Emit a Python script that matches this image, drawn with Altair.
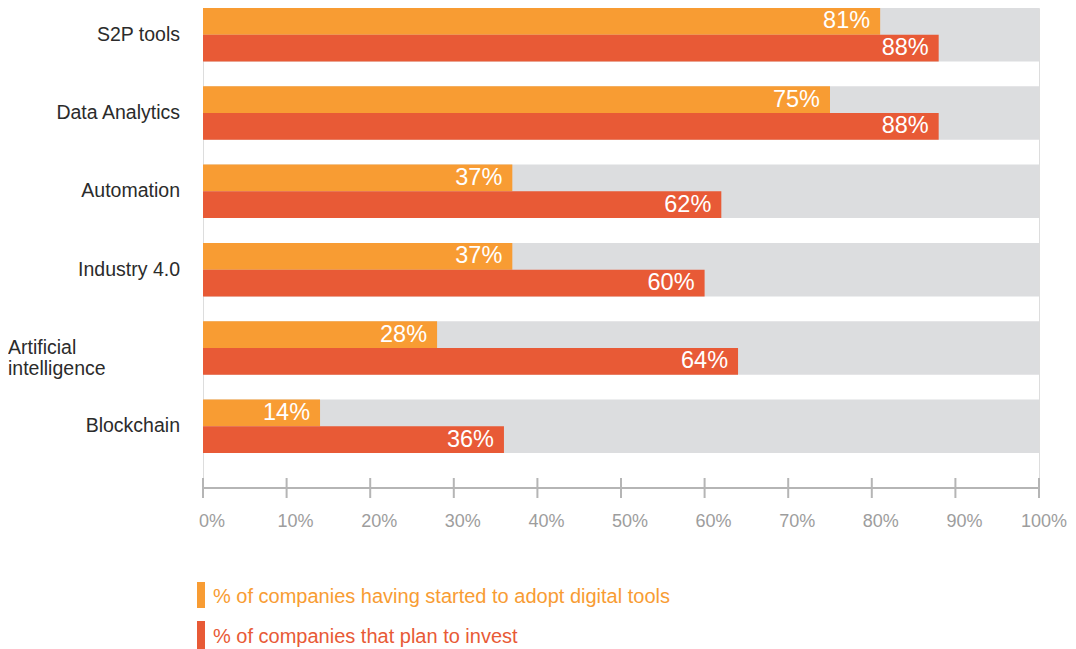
import altair as alt
import pandas as pd

categories = ["S2P tools", "Data Analytics", "Automation", "Industry 4.0",
              "Artificial intelligence", "Blockchain"]
series_names = ["% of companies having started to adopt digital tools",
                "% of companies that plan to invest"]
adopted = [81, 75, 37, 37, 28, 14]
plan_to_invest = [88, 88, 62, 60, 64, 36]
full_scale = [100, 100, 100, 100, 100, 100]
tick_values = [0, 10, 20, 30, 40, 50, 60, 70, 80, 90, 100]
axis_extent = [0, 100]

ORANGE = "#F89C33"
RED = "#E85A36"
GREY_BG = "#DCDDDF"
AXIS_GREY = "#B5B5B5"
FONT = "Liberation Sans"

rows = []
for i, c in enumerate(categories):
    rows.append({"category": c, "series": series_names[0], "value": adopted[i]})
    rows.append({"category": c, "series": series_names[1], "value": plan_to_invest[i]})
df = pd.DataFrame(rows)
bg = pd.DataFrame({"category": categories, "full": full_scale})
ticks_df = pd.DataFrame({"tick": tick_values})
domain_df = pd.DataFrame({"start": [axis_extent[0]], "end": [axis_extent[1]]})

x_scale = alt.Scale(domain=[0, 100], nice=False)
y_scale = alt.Scale(domain=categories, range=[0, 445], paddingInner=25 / 79, paddingOuter=0)
y_enc = alt.Y("category:N", scale=y_scale, sort=categories, axis=None)
yo_enc = alt.YOffset("series:N", sort=series_names,
                     scale=alt.Scale(domain=series_names, paddingInner=0, paddingOuter=0))
color_enc = alt.Color("series:N", scale=alt.Scale(domain=series_names, range=[ORANGE, RED]),
                      legend=None)

background = alt.Chart(bg).mark_bar(color=GREY_BG).encode(
    x=alt.X("full:Q", scale=x_scale, axis=None),
    y=y_enc,
)

bars = alt.Chart(df).mark_bar().encode(
    x=alt.X("value:Q", scale=x_scale, axis=None),
    y=y_enc,
    yOffset=yo_enc,
    color=color_enc,
)

value_labels = alt.Chart(df).transform_calculate(
    lab="datum.value + '%'"
).mark_text(align="right", baseline="middle", dx=-10, dy=0, color="white",
            font=FONT, fontSize=23.5).encode(
    x=alt.X("value:Q", scale=x_scale, axis=None),
    y=y_enc,
    yOffset=yo_enc,
    text="lab:N",
)

cat_labels = alt.Chart(bg).transform_filter(
    "datum.category != 'Artificial intelligence'"
).mark_text(align="right", baseline="middle", color="#2B2B2B", font=FONT,
            fontSize=19.5).encode(
    x=alt.value(-23),
    y=y_enc,
    text="category:N",
)

ai_label = alt.Chart(bg).transform_filter(
    "datum.category == 'Artificial intelligence'"
).transform_calculate(
    lines="split(datum.category, ' ')"
).mark_text(align="left", baseline="middle", color="#2B2B2B", font=FONT,
            fontSize=19.5, lineHeight=21).encode(
    x=alt.value(-195),
    y=y_enc,
    text="lines:N",
)

axis_line = alt.Chart(domain_df).mark_rule(color=AXIS_GREY, strokeWidth=2).encode(
    x=alt.X("start:Q", scale=x_scale, axis=None),
    x2="end:Q",
    y=alt.value(480),
)

axis_ticks = alt.Chart(ticks_df).mark_rule(color=AXIS_GREY, strokeWidth=2).encode(
    x=alt.X("tick:Q", scale=x_scale, axis=None),
    y=alt.value(470),
    y2=alt.value(490),
)

axis_labels = alt.Chart(ticks_df).transform_filter("datum.tick < 100").transform_calculate(
    lab="datum.tick + '%'"
).mark_text(align="center", baseline="middle", dx=9, color="#9D9D9D",
            font=FONT, fontSize=18).encode(
    x=alt.X("tick:Q", scale=x_scale, axis=None),
    y=alt.value(514),
    text="lab:N",
)

axis_label_last = alt.Chart(ticks_df).transform_filter("datum.tick == 100").transform_calculate(
    lab="datum.tick + '%'"
).mark_text(align="right", baseline="middle", dx=28, color="#9D9D9D",
            font=FONT, fontSize=18).encode(
    x=alt.X("tick:Q", scale=x_scale, axis=None),
    y=alt.value(514),
    text="lab:N",
)

legend_layers = []
legend_pos = [(574, 600, 589), (613, 641, 629)]
for name, col, (y1, y2, yt) in zip(series_names, [ORANGE, RED], legend_pos):
    ldf = pd.DataFrame({"series": [name]})
    swatch = alt.Chart(ldf).mark_rect(color=col).encode(
        x=alt.value(-6), x2=alt.value(2), y=alt.value(y1), y2=alt.value(y2))
    ltext = alt.Chart(ldf).mark_text(align="left", baseline="middle", color=col,
                                     font=FONT, fontSize=20).encode(
        x=alt.value(10), y=alt.value(yt), text="series:N")
    legend_layers += [swatch, ltext]

chart = alt.layer(
    background, bars, value_labels, cat_labels, ai_label,
    axis_line, axis_ticks, axis_labels, axis_label_last, *legend_layers
).properties(
    width=836, height=480,
    autosize=alt.AutoSizeParams(type="none"),
    padding={"left": 195, "top": 0, "right": 29, "bottom": 161},
).configure_view(stroke=None).configure(font=FONT)

chart.save("out.html", embed_options={"renderer": "svg", "actions": False})
